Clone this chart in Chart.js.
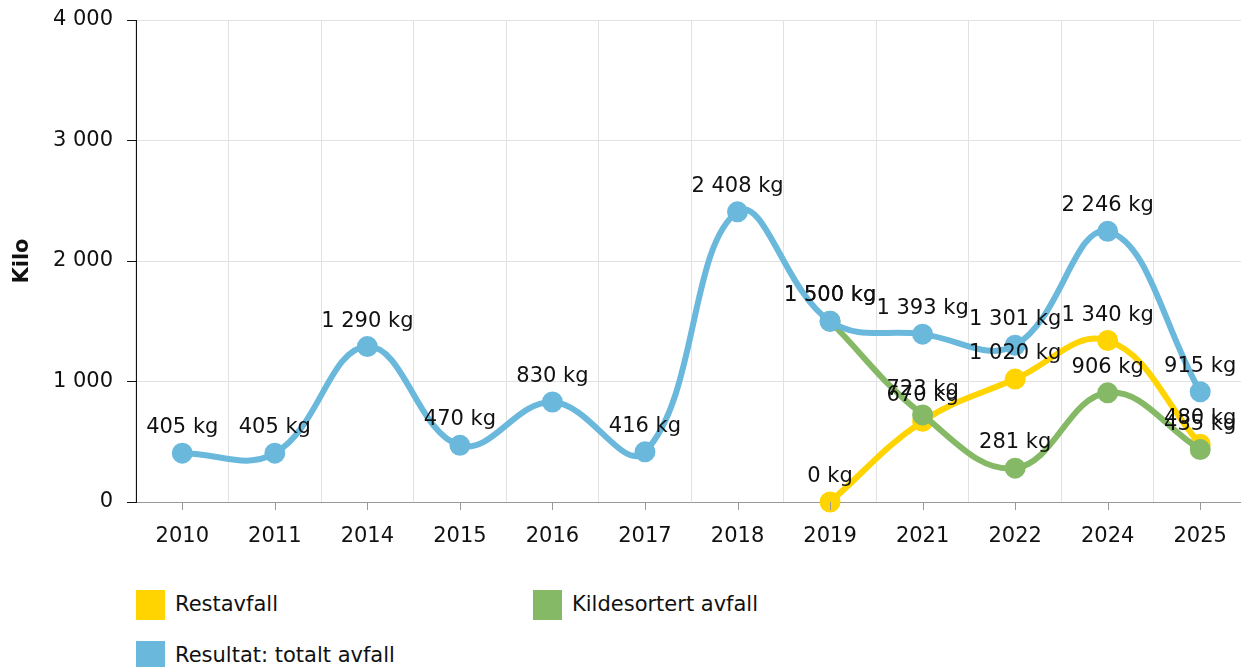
<!DOCTYPE html>
<html>
<head>
<meta charset="utf-8">
<script src="https://cdn.jsdelivr.net/npm/chart.js@4"></script>
<style>
  html, body { margin: 0; padding: 0; background: #fff; width: 1241px; height: 667px; overflow: hidden; }
  #wrap { position: relative; width: 1260px; height: 562px; }
  .legend { position: absolute; font-family: "DejaVu Sans", Verdana, sans-serif; font-size: 21px; color: #111; }
  .legend span.sw { position: absolute; left: 0; top: 0; width: 29px; height: 30px; }
  .legend span.tx { position: absolute; left: 39px; top: 2px; white-space: nowrap; }
</style>
</head>
<body>
<div id="wrap"><canvas id="chart" width="1260" height="562"></canvas></div>
<div class="legend" style="left:136px;top:590px"><span class="sw" style="background:#ffd400"></span><span class="tx">Restavfall</span></div>
<div class="legend" style="left:533px;top:590px"><span class="sw" style="background:#85b966"></span><span class="tx">Kildesortert avfall</span></div>
<div class="legend" style="left:136px;top:641px"><span class="sw" style="background:#6ab8dc"></span><span class="tx">Resultat: totalt avfall</span></div>
<script>
const years = ['2010','2011','2014','2015','2016','2017','2018','2019','2021','2022','2024','2025']
const totalt = [405, 405, 1290, 470, 830, 416, 2408, 1500, 1393, 1301, 2246, 915]
const restavfall = [null, null, null, null, null, null, null, 0, 670, 1020, 1340, 480]
const kildesortert = [null, null, null, null, null, null, null, 1500, 723, 281, 906, 435]
const yTicks = [0, 1000, 2000, 3000, 4000]

const FONT = '"DejaVu Sans", Verdana, sans-serif'
const fmt = v => String(v).replace(/\B(?=(\d{3})+(?!\d))/g, ' ')

// value labels above points
const pointLabels = {
  id: 'pointLabels',
  afterDatasetsDraw(chart) {
    const ctx = chart.ctx
    ctx.save()
    ctx.font = '21px ' + FONT
    ctx.fillStyle = '#111'
    ctx.textAlign = 'center'
    ctx.textBaseline = 'alphabetic'
    chart.data.datasets.forEach((ds, i) => {
      chart.getDatasetMeta(i).data.forEach((pt, j) => {
        const v = ds.data[j]
        if (v === null || v === undefined) return
        ctx.fillText(fmt(v) + ' kg', pt.x, pt.y - 20)
      })
    })
    ctx.restore()
  }
}

// x tick marks at category centres (grid lines sit between categories)
const xTickMarks = {
  id: 'xTickMarks',
  afterDraw(chart) {
    const x = chart.scales.x, ctx = chart.ctx
    ctx.save()
    ctx.strokeStyle = '#999'
    ctx.lineWidth = 1
    years.forEach((_, i) => {
      const px = Math.round(x.getPixelForTick(i)) + 0.5
      ctx.beginPath()
      ctx.moveTo(px, x.top)
      ctx.lineTo(px, x.top + 8)
      ctx.stroke()
    })
    ctx.restore()
  }
}

const line = (label, data, color, order) => ({
  label, data, order,
  borderColor: color,
  backgroundColor: color,
  pointBackgroundColor: color,
  pointBorderColor: color,
  borderWidth: 6,
  pointRadius: 7.5,
  pointHoverRadius: 7.5,
  tension: 0.4,
  fill: false,
  clip: false,
  spanGaps: false
})

new Chart(document.getElementById('chart'), {
  type: 'line',
  data: {
    labels: years,
    datasets: [
      line('Restavfall', restavfall, '#ffd400', 2),
      line('Kildesortert avfall', kildesortert, '#85b966', 1),
      line('Resultat: totalt avfall', totalt, '#6ab8dc', 0)
    ]
  },
  options: {
    responsive: false,
    animation: false,
    layout: { padding: { top: 20, left: 0, right: 0, bottom: 0 } },
    plugins: { legend: { display: false }, tooltip: { enabled: false } },
    scales: {
      x: {
        offset: true,
        grid: { offset: true, color: '#e2e2e2', drawTicks: false },
        border: { color: '#999' },
        ticks: { color: '#111', font: { family: FONT, size: 21 }, padding: 22, maxRotation: 0, autoSkip: false },
        afterFit: s => { s.height = 60 }
      },
      y: {
        min: 0, max: 4000,
        afterBuildTicks: s => { s.ticks = yTicks.map(v => ({ value: v })) },
        grid: { color: '#e2e2e2', tickLength: 9, tickColor: '#111' },
        border: { color: '#111' },
        ticks: { color: '#111', font: { family: FONT, size: 21 }, padding: 14, callback: v => fmt(v) },
        title: { display: true, text: 'Kilo', color: '#111', font: { family: FONT, size: 21, weight: 'bold' }, padding: { top: 10, bottom: 0 } },
        afterFit: s => { s.width = 136; s.paddingTop = 0; s.paddingBottom = 0 }
      }
    }
  },
  plugins: [pointLabels, xTickMarks]
})
</script>
</body>
</html>
